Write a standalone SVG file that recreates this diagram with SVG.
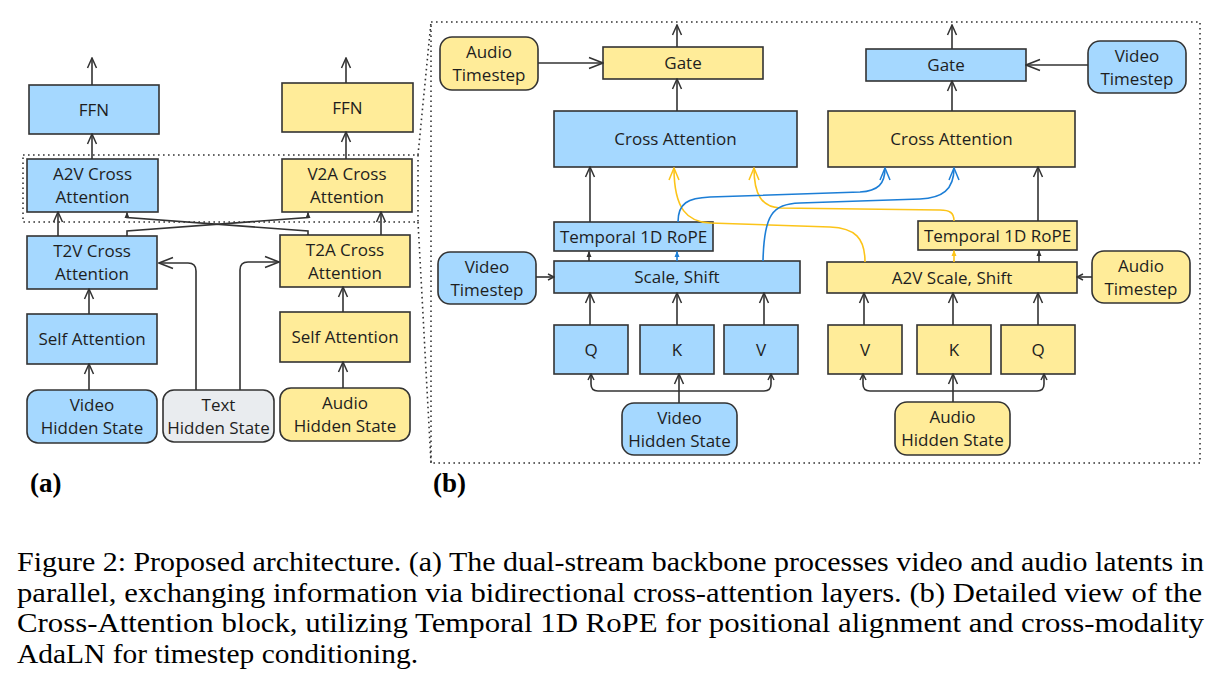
<svg xmlns="http://www.w3.org/2000/svg" width="1222" height="682" viewBox="0 0 1222 682">
<style>
.b{fill:#a5d8ff;stroke:#333;stroke-width:1.6}
.y{fill:#ffec99;stroke:#333;stroke-width:1.6}
.g{fill:#e9ecef;stroke:#333;stroke-width:1.6}
.t{font-family:"Open Sans","Liberation Sans",sans-serif;font-size:17px;fill:#1e1e1e;text-anchor:middle}
.c{fill:none;stroke:#333;stroke-width:1.6}
.cb{fill:none;stroke:#1c7ed6;stroke-width:1.6}
.cy{fill:none;stroke:#fcc419;stroke-width:1.6}
.dot{fill:none;stroke:#333;stroke-width:1.6;stroke-dasharray:1.6 3.4}
.cap{font-family:"Liberation Serif","Times New Roman",serif;font-size:27.5px;fill:#000}
.lbl{font-family:"Liberation Serif","Times New Roman",serif;font-size:27px;font-weight:bold;fill:#000}
</style>
<defs>
<marker id="a" viewBox="0 0 12 12" refX="11" refY="6" markerWidth="12" markerHeight="12" markerUnits="userSpaceOnUse" orient="auto"><path d="M1,1.5 L11,6 L1,10.5" fill="none" stroke="#333" stroke-width="1.5"/></marker>
<marker id="al" viewBox="0 0 16 14" refX="15" refY="7" markerWidth="16" markerHeight="14" markerUnits="userSpaceOnUse" orient="auto"><path d="M1,1.5 L15,7 L1,12.5" fill="none" stroke="#333" stroke-width="1.5"/></marker>
<marker id="sa" viewBox="0 0 8 8" refX="7" refY="4" markerWidth="8" markerHeight="8" markerUnits="userSpaceOnUse" orient="auto"><path d="M1,1 L7,4 L1,7" fill="none" stroke="#333" stroke-width="1.5"/></marker>
<marker id="s" viewBox="0 0 6 6" refX="5.5" refY="3" markerWidth="6" markerHeight="6" markerUnits="userSpaceOnUse" orient="auto"><path d="M0,0.5 L6,3 L0,5.5 Z" fill="#333"/></marker>
<marker id="sb" viewBox="0 0 6 6" refX="5.5" refY="3" markerWidth="6" markerHeight="6" markerUnits="userSpaceOnUse" orient="auto"><path d="M0,0.5 L6,3 L0,5.5 Z" fill="#1c7ed6"/></marker>
<marker id="sy" viewBox="0 0 6 6" refX="5.5" refY="3" markerWidth="6" markerHeight="6" markerUnits="userSpaceOnUse" orient="auto"><path d="M0,0.5 L6,3 L0,5.5 Z" fill="#fcc419"/></marker>
<marker id="ab" viewBox="0 0 14 12" refX="13" refY="6" markerWidth="14" markerHeight="12" markerUnits="userSpaceOnUse" orient="auto"><path d="M1,1 L13,6 L1,11" fill="none" stroke="#1c7ed6" stroke-width="1.5"/></marker>
<marker id="ay" viewBox="0 0 14 12" refX="13" refY="6" markerWidth="14" markerHeight="12" markerUnits="userSpaceOnUse" orient="auto"><path d="M1,1 L13,6 L1,11" fill="none" stroke="#fcc419" stroke-width="1.5"/></marker>
</defs>
<rect width="1222" height="682" fill="#fff"/>

<!-- frames -->
<g id="frames">
<rect class="dot" x="23" y="155" width="395" height="67"/>
<rect class="dot" x="431" y="22" width="769" height="441"/>
<path class="dot" d="M418,155 L431,22 M418,222 L431,463"/>
</g>

<!-- panel a nodes -->
<g id="a-ffn-v"><rect class="b" x="29" y="85" width="130" height="49"/><text class="t" x="94" y="116">FFN</text></g>
<g id="a-ffn-a"><rect class="y" x="282" y="83" width="131" height="49"/><text class="t" x="347.5" y="114">FFN</text></g>
<g id="a-a2v"><rect class="b" x="27" y="159" width="131" height="53"/><text class="t" x="92.5" y="180">A2V Cross</text><text class="t" x="92.5" y="203">Attention</text></g>
<g id="a-v2a"><rect class="y" x="282" y="159" width="130" height="53"/><text class="t" x="347" y="180">V2A Cross</text><text class="t" x="347" y="203">Attention</text></g>
<g id="a-t2v"><rect class="b" x="27" y="236" width="130" height="53"/><text class="t" x="92" y="257">T2V Cross</text><text class="t" x="92" y="280">Attention</text></g>
<g id="a-t2a"><rect class="y" x="280" y="235" width="130" height="52"/><text class="t" x="345" y="255.5">T2A Cross</text><text class="t" x="345" y="278.5">Attention</text></g>
<g id="a-self-v"><rect class="b" x="27" y="314" width="130" height="50"/><text class="t" x="92" y="345">Self Attention</text></g>
<g id="a-self-a"><rect class="y" x="280" y="312" width="130" height="50"/><text class="t" x="345" y="343">Self Attention</text></g>
<g id="a-vhs"><rect class="b" x="27" y="390" width="130" height="53" rx="11"/><text class="t" x="92" y="411">Video</text><text class="t" x="92" y="434">Hidden State</text></g>
<g id="a-ths"><rect class="g" x="163" y="390" width="111" height="52" rx="11"/><text class="t" x="218.5" y="410.5">Text</text><text class="t" x="218.5" y="433.5">Hidden State</text></g>
<g id="a-ahs"><rect class="y" x="280" y="388" width="130" height="53" rx="11"/><text class="t" x="345" y="409">Audio</text><text class="t" x="345" y="432">Hidden State</text></g>

<!-- panel b nodes -->
<g id="b-ats1"><rect class="y" x="440" y="37" width="98" height="53" rx="12"/><text class="t" x="489" y="58">Audio</text><text class="t" x="489" y="81">Timestep</text></g>
<g id="b-gate-v"><rect class="y" x="603" y="47" width="160" height="32"/><text class="t" x="683" y="69">Gate</text></g>
<g id="b-ca-v"><rect class="b" x="554" y="111" width="243" height="56"/><text class="t" x="675.5" y="145">Cross Attention</text></g>
<g id="b-rope-v"><rect class="b" x="554" y="222" width="159" height="29"/><text class="t" x="633.5" y="242.5">Temporal 1D RoPE</text></g>
<g id="b-vts"><rect class="b" x="438" y="252" width="98" height="52" rx="12"/><text class="t" x="487" y="272.5">Video</text><text class="t" x="487" y="295.5">Timestep</text></g>
<g id="b-ss-v"><rect class="b" x="554" y="261" width="246" height="32"/><text class="t" x="677" y="283">Scale, Shift</text></g>
<g id="b-q-v"><rect class="b" x="554" y="325" width="74" height="49"/><text class="t" x="591" y="355.5">Q</text></g>
<g id="b-k-v"><rect class="b" x="640" y="325" width="74" height="49"/><text class="t" x="677" y="355.5">K</text></g>
<g id="b-vv-v"><rect class="b" x="724" y="325" width="74" height="49"/><text class="t" x="761" y="355.5">V</text></g>
<g id="b-vhs"><rect class="b" x="622" y="403" width="115" height="52" rx="12"/><text class="t" x="679.5" y="423.5">Video</text><text class="t" x="679.5" y="446.5">Hidden State</text></g>

<g id="b-gate-a"><rect class="b" x="866" y="49" width="160" height="32"/><text class="t" x="946" y="71">Gate</text></g>
<g id="b-vts2"><rect class="b" x="1088" y="41" width="98" height="52" rx="12"/><text class="t" x="1137" y="61.5">Video</text><text class="t" x="1137" y="84.5">Timestep</text></g>
<g id="b-ca-a"><rect class="y" x="828" y="111" width="247" height="56"/><text class="t" x="951.5" y="145">Cross Attention</text></g>
<g id="b-rope-a"><rect class="y" x="918" y="221" width="159" height="29"/><text class="t" x="997.5" y="241.5">Temporal 1D RoPE</text></g>
<g id="b-ss-a"><rect class="y" x="827" y="262" width="250" height="31"/><text class="t" x="952" y="283.5">A2V Scale, Shift</text></g>
<g id="b-ats2"><rect class="y" x="1092" y="251" width="98" height="52" rx="12"/><text class="t" x="1141" y="271.5">Audio</text><text class="t" x="1141" y="294.5">Timestep</text></g>
<g id="b-v-a"><rect class="y" x="828" y="325" width="74" height="49"/><text class="t" x="865" y="355.5">V</text></g>
<g id="b-k-a"><rect class="y" x="917" y="325" width="74" height="49"/><text class="t" x="954" y="355.5">K</text></g>
<g id="b-q-a"><rect class="y" x="1001" y="325" width="74" height="49"/><text class="t" x="1038" y="355.5">Q</text></g>
<g id="b-ahs"><rect class="y" x="895" y="402" width="115" height="53" rx="12"/><text class="t" x="952.5" y="423">Audio</text><text class="t" x="952.5" y="446">Hidden State</text></g>

<!-- connectors -->
<g id="connectors">
<path class="c" marker-end="url(#a)" d="M92,85 V58"/>
<path class="c" marker-end="url(#a)" d="M346,83 V58"/>
<path class="c" marker-end="url(#a)" d="M92,159 V134"/>
<path class="c" marker-end="url(#a)" d="M346,159 V132"/>
<path class="c" marker-end="url(#a)" d="M58,236 V212"/>
<path class="c" marker-end="url(#a)" d="M381,235 V212"/>
<path class="c" marker-end="url(#a)" d="M89,314 V289"/>
<path class="c" marker-end="url(#a)" d="M343,312 V287"/>
<path class="c" marker-end="url(#a)" d="M89,390 V364"/>
<path class="c" marker-end="url(#a)" d="M343,388 V362"/>
<path class="c" marker-end="url(#al)" d="M196,390 V271 Q196,263 188,263 H159"/>
<path class="c" marker-end="url(#al)" d="M240,390 V270 Q240,262 248,262 H279"/>
<path class="c" marker-end="url(#s)" d="M127,236 V231 L308,217.5 V212.5"/>
<path class="c" marker-end="url(#s)" d="M308,235 V231 L127,217.5 V212.5"/>

<path class="c" marker-end="url(#a)" d="M677,47 V25"/>
<path class="c" marker-end="url(#a)" d="M952,49 V25"/>
<path class="c" marker-end="url(#al)" d="M538,63 H603"/>
<path class="c" marker-end="url(#al)" d="M1088,65 H1026"/>
<path class="c" marker-end="url(#a)" d="M677,111 V79"/>
<path class="c" marker-end="url(#a)" d="M952,111 V81"/>
<path class="c" marker-end="url(#a)" d="M590,222 V167"/>
<path class="c" marker-end="url(#a)" d="M1038,221 V167"/>
<path class="c" marker-end="url(#s)" d="M589,261 V251.5"/>
<path class="c" marker-end="url(#s)" d="M1039,262 V250.5"/>
<path class="c" marker-end="url(#sa)" d="M536,277 H554"/>
<path class="c" marker-end="url(#sa)" d="M1092,277 H1077"/>
<path class="c" marker-end="url(#a)" d="M590,325 V293"/>
<path class="c" marker-end="url(#a)" d="M677,325 V293"/>
<path class="c" marker-end="url(#a)" d="M764,325 V293"/>
<path class="c" marker-end="url(#a)" d="M864,325 V293"/>
<path class="c" marker-end="url(#a)" d="M953,325 V293"/>
<path class="c" marker-end="url(#a)" d="M1038,325 V293"/>
<path class="c" marker-end="url(#a)" d="M679,403 V374"/>
<path class="c" marker-end="url(#sa)" d="M679,391 H598 Q591,391 591,384 V374"/>
<path class="c" marker-end="url(#sa)" d="M679,391 H764 Q771,391 771,384 V374"/>
<path class="c" marker-end="url(#a)" d="M953,402 V374"/>
<path class="c" marker-end="url(#sa)" d="M953,391 H870 Q863,391 863,384 V374"/>
<path class="c" marker-end="url(#sa)" d="M953,391 H1037 Q1044,391 1044,384 V374"/>

<path class="cb" marker-end="url(#sb)" d="M677,261 V251.5"/>
<path class="cy" marker-end="url(#sy)" d="M954,262 V250.5"/>
<path class="cy" marker-end="url(#ay)" d="M865,262 C865,238 855,228 830,227 L710,223 C688,222 674,210 674,168"/>
<path class="cy" marker-end="url(#ay)" d="M954,221 C954,213 950,210 940,210 L780,208 C762,207 754,195 754,168"/>
<path class="cb" marker-end="url(#ab)" d="M678,222 C678,203 688,198 710,197 L860,192 C878,191 885,184 885,168"/>
<path class="cb" marker-end="url(#ab)" d="M763,261 C764,215 772,204 800,203 L920,199 C942,198 954,190 954,168"/>
</g>

<text class="lbl" x="30" y="492">(a)</text>
<text class="lbl" x="433" y="492">(b)</text>

<g id="caption">
<text class="cap" x="17" y="571" textLength="1187" lengthAdjust="spacingAndGlyphs">Figure 2: Proposed architecture. (a) The dual-stream backbone processes video and audio latents in</text>
<text class="cap" x="17" y="602" textLength="1185" lengthAdjust="spacingAndGlyphs">parallel, exchanging information via bidirectional cross-attention layers. (b) Detailed view of the</text>
<text class="cap" x="17" y="632" textLength="1187" lengthAdjust="spacingAndGlyphs">Cross-Attention block, utilizing Temporal 1D RoPE for positional alignment and cross-modality</text>
<text class="cap" x="17" y="663" textLength="401" lengthAdjust="spacingAndGlyphs">AdaLN for timestep conditioning.</text>
</g>
</svg>
